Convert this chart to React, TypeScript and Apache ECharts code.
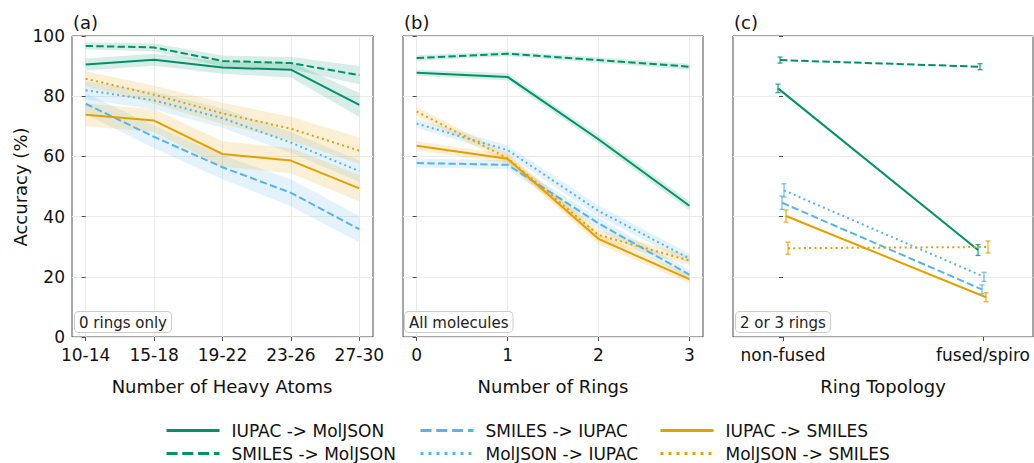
import React, { useEffect, useRef } from "react";
import * as echarts from "echarts";

// ---------- data ----------
const seriesNames = [
  "IUPAC -> MolJSON",
  "SMILES -> MolJSON",
  "SMILES -> IUPAC",
  "MolJSON -> IUPAC",
  "IUPAC -> SMILES",
  "MolJSON -> SMILES",
];
const seriesColors = ["#00906A", "#00906A", "#56B4E9", "#56B4E9", "#E69F00", "#E69F00"];
const seriesBands = [
  "rgba(0,150,108,0.16)",
  "rgba(0,150,108,0.16)",
  "rgba(86,180,233,0.16)",
  "rgba(86,180,233,0.16)",
  "rgba(230,159,0,0.16)",
  "rgba(230,159,0,0.16)",
];
const seriesDash: any[] = ["solid", [7.4, 3.2], [7.4, 3.2], [2, 3.3], "solid", [2, 3.3]];
const legendDash: any[] = ["solid", [11, 4.8], [11, 4.8], [3, 5], "solid", [3, 5]];

// Panel (a): heavy atoms, 0 rings only
const heavyAtomBins = ["10-14", "15-18", "19-22", "23-26", "27-30"];
const aIupacMol = [90.5, 92.1, 89.5, 88.8, 77.1];
const aIupacMolCi = [2.0, 2.0, 2.0, 2.6, 4.0];
const aSmilesMol = [96.7, 96.2, 91.7, 91.0, 87.0];
const aSmilesMolCi = [1.2, 1.3, 1.8, 2.0, 3.0];
const aSmilesIupac = [77.5, 66.5, 56.4, 47.9, 35.8];
const aSmilesIupacCi = [3.5, 3.8, 4.0, 4.5, 4.4];
const aMolIupac = [82.0, 78.6, 72.7, 64.6, 55.1];
const aMolIupacCi = [3.0, 3.0, 3.2, 3.5, 3.5];
const aIupacSmiles = [73.8, 71.9, 60.8, 58.6, 49.4];
const aIupacSmilesCi = [3.8, 3.8, 4.2, 4.2, 4.4];
const aMolSmiles = [85.8, 80.5, 74.3, 69.2, 61.9];
const aMolSmilesCi = [2.5, 3.0, 3.5, 4.0, 4.4];

// Panel (b): number of rings, all molecules
const ringCounts = [0, 1, 2, 3];
const bIupacMol = [87.8, 86.4, 65.7, 43.6];
const bIupacMolCi = [1.0, 1.2, 1.4, 1.5];
const bSmilesMol = [92.7, 94.1, 92.0, 89.8];
const bSmilesMolCi = [0.9, 0.8, 0.9, 1.0];
const bSmilesIupac = [57.8, 57.2, 37.8, 20.7];
const bSmilesIupacCi = [1.5, 1.5, 1.8, 1.5];
const bMolIupac = [70.9, 62.1, 41.9, 26.1];
const bMolIupacCi = [1.5, 1.6, 1.8, 1.6];
const bIupacSmiles = [63.5, 59.2, 32.6, 19.2];
const bIupacSmilesCi = [1.5, 1.5, 1.8, 1.4];
const bMolSmiles = [74.9, 59.4, 33.9, 25.4];
const bMolSmilesCi = [1.5, 1.6, 1.8, 1.6];

// Panel (c): ring topology, 2 or 3 rings
const topologyCats = ["non-fused", "fused/spiro"];
const cIupacMol = [82.6, 28.9];
const cIupacMolErr = [1.4, 1.8];
const cSmilesMol = [92.0, 89.8];
const cSmilesMolErr = [1.0, 1.0];
const cSmilesIupac = [44.6, 15.8];
const cSmilesIupacErr = [2.2, 1.5];
const cMolIupac = [48.7, 20.0];
const cMolIupacErr = [2.2, 1.5];
const cIupacSmiles = [40.2, 13.2];
const cIupacSmilesErr = [2.0, 1.5];
const cMolSmiles = [29.5, 29.9];
const cMolSmilesErr = [2.0, 2.0];
const dodgeOffsets = [-0.025, -0.015, -0.005, 0.005, 0.015, 0.025];

const panelA = [
  [aIupacMol, aIupacMolCi],
  [aSmilesMol, aSmilesMolCi],
  [aSmilesIupac, aSmilesIupacCi],
  [aMolIupac, aMolIupacCi],
  [aIupacSmiles, aIupacSmilesCi],
  [aMolSmiles, aMolSmilesCi],
];
const panelB = [
  [bIupacMol, bIupacMolCi],
  [bSmilesMol, bSmilesMolCi],
  [bSmilesIupac, bSmilesIupacCi],
  [bMolIupac, bMolIupacCi],
  [bIupacSmiles, bIupacSmilesCi],
  [bMolSmiles, bMolSmilesCi],
];
const panelC = [
  [cIupacMol, cIupacMolErr],
  [cSmilesMol, cSmilesMolErr],
  [cSmilesIupac, cSmilesIupacErr],
  [cMolIupac, cMolIupacErr],
  [cIupacSmiles, cIupacSmilesErr],
  [cMolSmiles, cMolSmilesErr],
];

const FONT = "DejaVu Sans";
const SPINE = "#4d4d4d";
const GRIDC = "#ebebeb";

// legend placement: column lefts and row tops
const legendLefts = [165, 165, 419, 419, 659, 659];
const legendTops = [422, 445, 422, 445, 422, 445];

function bandSeries(axisIdx: number, xs: number[], vals: number[], ci: number[], fill: string) {
  return {
    type: "custom",
    xAxisIndex: axisIdx,
    yAxisIndex: axisIdx,
    silent: true,
    z: 1,
    data: [[xs[0], vals[0]]],
    encode: { x: 0, y: 1 },
    renderItem: (_p: any, api: any) => {
      const pts: number[][] = [];
      for (let i = 0; i < xs.length; i++) pts.push(api.coord([xs[i], vals[i] + ci[i]]));
      for (let i = xs.length - 1; i >= 0; i--) pts.push(api.coord([xs[i], vals[i] - ci[i]]));
      return { type: "polygon", shape: { points: pts }, style: { fill } };
    },
  };
}

function lineSeries(axisIdx: number, name: string, xs: number[], vals: number[], k: number) {
  return {
    type: "line",
    name,
    xAxisIndex: axisIdx,
    yAxisIndex: axisIdx,
    symbol: "none",
    z: 3,
    data: xs.map((x, i) => [x, vals[i]]),
    lineStyle: { color: seriesColors[k], width: 2, type: seriesDash[k] },
    itemStyle: { color: seriesColors[k] },
  };
}

function errSeries(k: number, vals: number[], err: number[]) {
  const off = dodgeOffsets[k];
  const color = seriesColors[k];
  return {
    type: "custom",
    xAxisIndex: 2,
    yAxisIndex: 2,
    silent: true,
    z: 4,
    data: vals.map((v, i) => [i + off, v - err[i], v + err[i]]),
    encode: { x: 0, y: [1, 2] },
    renderItem: (_p: any, api: any) => {
      const x = api.value(0);
      const lo = api.coord([x, api.value(1)]);
      const hi = api.coord([x, api.value(2)]);
      const st = { stroke: color, lineWidth: 1.3, opacity: 0.8 };
      return {
        type: "group",
        children: [
          { type: "line", shape: { x1: lo[0], y1: lo[1], x2: hi[0], y2: hi[1] }, style: st },
          { type: "line", shape: { x1: lo[0] - 2.5, y1: lo[1], x2: lo[0] + 2.5, y2: lo[1] }, style: st },
          { type: "line", shape: { x1: hi[0] - 2.5, y1: hi[1], x2: hi[0] + 2.5, y2: hi[1] }, style: st },
        ],
      };
    },
  };
}

function makeXAxis(idx: number, min: number, max: number, values: number[], labels: string[], grid: boolean) {
  return {
    type: "value",
    gridIndex: idx,
    min,
    max,
    axisLine: { show: false },
    axisTick: { show: true, customValues: values, length: 4, lineStyle: { color: SPINE } },
    axisLabel: {
      show: true,
      customValues: values,
      margin: 9,
      fontSize: 17,
      color: "#111",
      fontFamily: FONT,
      formatter: (v: number) => {
        const i = values.indexOf(Math.round(v * 1000) / 1000);
        return i >= 0 ? labels[i] : "";
      },
    },
    splitLine: { show: grid, lineStyle: { color: GRIDC, width: 1 } },
  };
}

function makeYAxis(idx: number, showLabels: boolean) {
  return {
    type: "value",
    gridIndex: idx,
    min: 0,
    max: 100,
    interval: 20,
    axisLine: { show: false },
    axisTick: { show: true, length: 4, lineStyle: { color: SPINE } },
    axisLabel: { show: showLabels, margin: 7, fontSize: 17, color: "#111", fontFamily: FONT },
    splitLine: { show: true, lineStyle: { color: GRIDC, width: 1 } },
  };
}

function buildOption() {
  const aXs = heavyAtomBins.map((_, i) => i);
  const series: any[] = [];
  panelA.forEach(([v, ci], k) => series.push(bandSeries(0, aXs, v, ci, seriesBands[k])));
  panelB.forEach(([v, ci], k) => series.push(bandSeries(1, ringCounts, v, ci, seriesBands[k])));
  panelA.forEach(([v], k) => series.push(lineSeries(0, seriesNames[k], aXs, v, k)));
  panelB.forEach(([v], k) => series.push(lineSeries(1, seriesNames[k], ringCounts, v, k)));
  panelC.forEach(([v, e], k) => {
    series.push(lineSeries(2, seriesNames[k], topologyCats.map((_, i) => i + dodgeOffsets[k]), v, k));
    series.push(errSeries(k, v, e));
  });

  const gridBase = { top: 36, height: 301, width: 300, show: true, borderColor: SPINE, borderWidth: 1, backgroundColor: "transparent", outerBoundsMode: "none" };

  const legends = seriesNames.map((name, k) => ({
    left: legendLefts[k],
    top: legendTops[k],
    padding: 0,
    itemWidth: 53,
    itemHeight: 14,
    selectedMode: false,
    textStyle: { fontSize: 17, color: "#111", fontFamily: FONT, padding: [0, 0, 0, 7] },
    data: [
      {
        name,
        lineStyle: { width: 3, type: legendDash[k], color: seriesColors[k], cap: "butt" },
        itemStyle: { opacity: 0 },
      },
    ],
  }));

  const tFont = `18px "${FONT}"`;
  const boxStyle = (text: string) => ({
    text,
    font: `15px "${FONT}"`,
    fill: "#222",
    backgroundColor: "#fff",
    borderColor: "#cccccc",
    borderWidth: 1,
    borderRadius: 4,
    padding: [3, 4, 2, 4],
  });

  return {
    animation: false,
    backgroundColor: "#fff",
    textStyle: { fontFamily: FONT },
    grid: [
      { ...gridBase, left: 72, width: 301 },
      { ...gridBase, left: 403 },
      { ...gridBase, left: 733 },
    ],
    xAxis: [
      makeXAxis(0, -0.2, 4.2, [0, 1, 2, 3, 4], heavyAtomBins, true),
      makeXAxis(1, -0.15, 3.15, ringCounts, ringCounts.map(String), true),
      makeXAxis(2, -0.25, 1.25, [0, 1], topologyCats, false),
    ],
    yAxis: [makeYAxis(0, true), makeYAxis(1, false), makeYAxis(2, false)],
    legend: legends,
    graphic: [
      { type: "text", x: 73, y: 22, style: { text: "(a)", font: `18px "${FONT}"`, fill: "#111", verticalAlign: "middle" } },
      { type: "text", x: 404, y: 22, style: { text: "(b)", font: `18px "${FONT}"`, fill: "#111", verticalAlign: "middle" } },
      { type: "text", x: 734, y: 22, style: { text: "(c)", font: `18px "${FONT}"`, fill: "#111", verticalAlign: "middle" } },
      { type: "text", x: 20, y: 187, rotation: Math.PI / 2, style: { text: "Accuracy (%)", font: tFont, fill: "#111", align: "center", verticalAlign: "middle" } },
      { type: "text", x: 222, y: 386, style: { text: "Number of Heavy Atoms", font: tFont, fill: "#111", align: "center", verticalAlign: "middle" } },
      { type: "text", x: 553, y: 386, style: { text: "Number of Rings", font: tFont, fill: "#111", align: "center", verticalAlign: "middle" } },
      { type: "text", x: 883, y: 386, style: { text: "Ring Topology", font: tFont, fill: "#111", align: "center", verticalAlign: "middle" } },
      { type: "text", x: 75, y: 312, z: 10, style: boxStyle("0 rings only") },
      { type: "text", x: 405, y: 312, z: 10, style: boxStyle("All molecules") },
      { type: "text", x: 736, y: 312, z: 10, style: boxStyle("2 or 3 rings") },
    ],
    series,
  };
}

export default function App() {
  const ref = useRef<HTMLDivElement>(null);
  useEffect(() => {
    if (!ref.current) return;
    const chart = echarts.init(ref.current, undefined, { renderer: "svg" });
    chart.setOption(buildOption() as any);
    return () => chart.dispose();
  }, []);
  return <div ref={ref} style={{ position: "fixed", left: 0, top: 0, width: 1034, height: 463 }} />;
}
